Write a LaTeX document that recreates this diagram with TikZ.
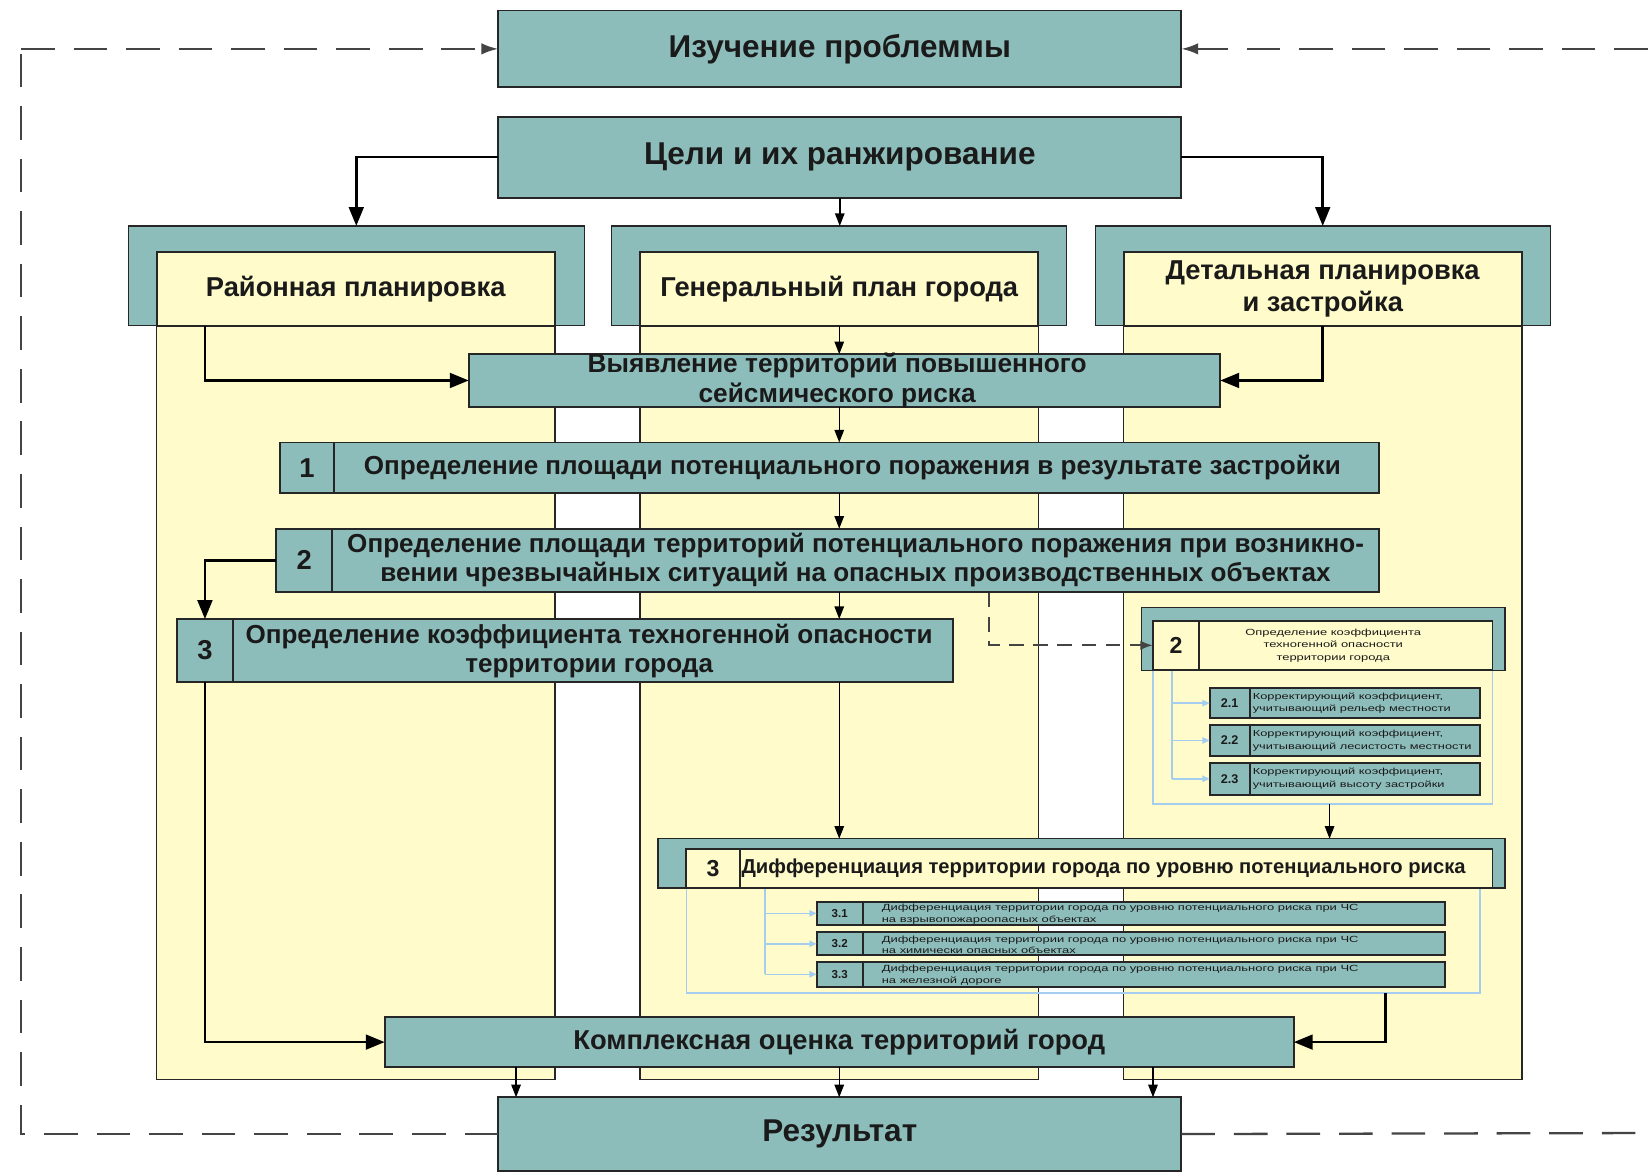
\documentclass[tikz,border=0pt]{standalone}
\usepackage{fontspec}
\setmainfont{Liberation Sans}
\newfontfamily\widefont[FakeStretch=1.45]{Liberation Sans}
\usetikzlibrary{arrows.meta}
\definecolor{tealf}{HTML}{8DBDBA}
\definecolor{yelf}{HTML}{FFFBCA}
\definecolor{edgec}{HTML}{262626}
\definecolor{lblue}{HTML}{A5CDF0}
\definecolor{dgray}{HTML}{444444}
\definecolor{txt}{HTML}{1A1A1A}
\newcommand\bx[6]{\node[#6,minimum width={(#4)-(#2)},minimum height={(#5)-(#3)}] (#1) at ({((#2)+(#4))/2},{((#3)+(#5))/2}) {};}
\begin{document}
\begin{tikzpicture}[x=1pt,y=-1pt,
  every node/.style={inner sep=0pt,outer sep=0pt,text=txt},
  tbox/.style={draw=edgec,line width=1.8pt,fill=tealf},
  ybox/.style={draw=edgec,line width=1.8pt,fill=yelf},
  hframe/.style={draw=edgec,line width=1.2pt,fill=tealf},
  panel/.style={draw=edgec,line width=1.5pt,fill=yelf},
  bframe/.style={draw=lblue,line width=1.5pt},
  f30/.style={font=\bfseries\fontsize{30}{34}\selectfont,align=center},
  f26/.style={font=\bfseries\fontsize{26}{30}\selectfont,align=center},
  f25/.style={font=\bfseries\fontsize{24.8}{27.5}\selectfont,align=center},
  f19/.style={font=\bfseries\fontsize{19.2}{23}\selectfont,align=center},
  fnum/.style={font=\bfseries\fontsize{26}{30}\selectfont},
  fsnum/.style={font=\bfseries\fontsize{12}{14}\selectfont},
  ftiny/.style={font=\widefont\fontsize{8.5}{12}\selectfont},
  bigarr/.style={draw=black,line width=2.6pt,-{Triangle[length=18pt,width=14pt]}},
  smallarr/.style={draw=black,line width=1.4pt,-{Triangle[length=12pt,width=9pt]}},
  dsh/.style={draw=dgray,line width=2.2pt,dash pattern=on 32pt off 18pt},
  dsharr/.style={dsh,-{Latex[length=16pt,width=11pt]}},
  dshs/.style={draw=dgray,line width=2pt,dash pattern=on 14pt off 9pt,-{Latex[length=12pt,width=9pt]}},
  bline/.style={draw=lblue,line width=1.5pt},
  blarr/.style={draw=lblue,line width=1.5pt,-{Triangle[length=7pt,width=6pt]}}
]
\fill[white] (0,0) rectangle (1568,1116);
\useasboundingbox (0,0) rectangle (1568,1116);

% top boxes
\bx{izuch}{474}{10}{1124}{83}{tbox}
\node[f30] (izuchT) at (izuch.center) {Изучение проблеммы};
\bx{celi}{474}{111}{1124}{188}{tbox}
\node[f30] (celiT) at (celi.center) {Цели и их ранжирование};
\bx{rezult}{474}{1044}{1124}{1114}{tbox}
\node[f30] (rezultT) at (rezult.center) {Результат};

% dashed loop
\coordinate (cTL) at (20,46.5);
\coordinate (cTR) at (1568,46.5);
\coordinate (cBR) at (1568,1078);
\draw[dsh] (rezult.west) -| (cTL);
\draw[dsharr] (cTL) -- (izuch.west);
\draw[dsharr] (cTR) -- (izuch.east);
\draw[dsh] (rezult.east) -- (cBR);

% column panels
\bx{raionP}{149}{240}{528}{1027}{panel}
\bx{genP}{609}{240}{988}{1027}{panel}
\bx{detP}{1069}{240}{1448}{1027}{panel}
\bx{raionH}{122}{215}{556}{310}{hframe}
\bx{genH}{582}{215}{1015}{310}{hframe}
\bx{detH}{1042}{215}{1475}{310}{hframe}
\bx{raionL}{149}{240}{528}{310}{ybox}
\bx{genL}{609}{240}{988}{310}{ybox}
\bx{detL}{1069}{240}{1448}{310}{ybox}
\node[f26] (raionT) at (raionL.center) {Районная планировка};
\node[f26] (genT) at (genL.center) {Генеральный план города};
\node[f26] (detT) at (detL.center) {Детальная планировка\\и застройка};

% main steps
\bx{vyyav}{446}{337}{1161}{387}{tbox}
\node[f26,font=\bfseries\fontsize{25}{29}\selectfont] (vyyavT) at ([xshift=-7pt]vyyav.center) {Выявление территорий повышенного\\сейсмического риска};
\bx{s1n}{266}{421}{318}{469}{tbox}
\bx{s1}{318}{421}{1312}{469}{tbox}
\node[fnum] (s1nT) at (s1n.center) {1};
\node[f25] (s1T) at ([xshift=-4pt]s1.center) {Определение площади потенциального поражения в результате застройки};
\bx{s2n}{263}{503}{316}{563}{tbox}
\bx{s2}{316}{503}{1312}{563}{tbox}
\node[fnum] (s2nT) at (s2n.center) {2};
\node[f25] (s2T) at (s2.center) {Определение площади территорий потенциального поражения при возникно-\\вении чрезвычайных ситуаций на опасных производственных объектах};
\bx{s3n}{168}{589}{222}{649}{tbox}
\bx{s3}{222}{589}{907}{649}{tbox}
\node[fnum] (s3nT) at (s3n.center) {3};
\node[f25] (s3T) at ([xshift=-4pt]s3.center) {Определение коэффициента техногенной опасности\\территории города};

% sub-block 2
\bx{bfr2}{1097}{637}{1420}{765}{bframe}
\bx{sub2f}{1086}{578}{1432}{638}{hframe}
\bx{sub2n}{1097}{591}{1141}{637}{ybox}
\bx{sub2}{1141}{591}{1420}{637}{ybox}
\node[font=\bfseries\fontsize{22}{26}\selectfont] (sub2nT) at (sub2n.center) {2};
\node[ftiny,align=center] (sub2T) at ([xshift=-12pt]sub2.center) {Определение коэффициента\\техногенной опасности\\территории города};
\bx{s21n}{1151}{655}{1189}{683}{tbox}
\bx{s21}{1189}{655}{1408}{683}{tbox}
\bx{s22n}{1151}{690}{1189}{719}{tbox}
\bx{s22}{1189}{690}{1408}{719}{tbox}
\bx{s23n}{1151}{726}{1189}{756}{tbox}
\bx{s23}{1189}{726}{1408}{756}{tbox}
\node[fsnum] (s21nT) at (s21n.center) {2.1};
\node[fsnum] (s22nT) at (s22n.center) {2.2};
\node[fsnum] (s23nT) at (s23n.center) {2.3};
\node[ftiny,font=\widefont\fontsize{8.4}{12}\selectfont,align=left,anchor=west] (s21T) at ([xshift=3pt]s21.west) {Корректирующий коэффициент,\\учитывающий рельеф местности};
\node[ftiny,font=\widefont\fontsize{8.4}{12}\selectfont,align=left,anchor=west] (s22T) at ([xshift=3pt]s22.west) {Корректирующий коэффициент,\\учитывающий лесистость местности};
\node[ftiny,font=\widefont\fontsize{8.4}{12}\selectfont,align=left,anchor=west] (s23T) at ([xshift=3pt]s23.west) {Корректирующий коэффициент,\\учитывающий высоту застройки};
\coordinate (b2) at (1115,638);
\draw[bline] (b2) -- (b2 |- s23n.west);
\foreach \k in {s21n,s22n,s23n} \draw[blarr] (b2 |- \k.west) -- (\k.west);

% differentiation block 3
\bx{bfr3}{653}{845}{1408}{945}{bframe}
\bx{d3f}{626}{798}{1432}{845}{hframe}
\bx{d3n}{653}{808}{704}{845}{ybox}
\bx{d3}{704}{808}{1420}{845}{ybox}
\node[font=\bfseries\fontsize{22}{26}\selectfont] (d3nT) at (d3n.center) {3};
\node[f19] (d3T) at ([xshift=-12pt]d3.center) {Дифференциация территории города по уровню потенциального риска};
\bx{s31n}{777}{858}{821}{880}{tbox}
\bx{s31}{821}{858}{1375}{880}{tbox}
\bx{s32n}{777}{887}{821}{909}{tbox}
\bx{s32}{821}{887}{1375}{909}{tbox}
\bx{s33n}{777}{915}{821}{939}{tbox}
\bx{s33}{821}{915}{1375}{939}{tbox}
\node[fsnum,font=\bfseries\fontsize{11}{13}\selectfont] (s31nT) at (s31n.center) {3.1};
\node[fsnum,font=\bfseries\fontsize{11}{13}\selectfont] (s32nT) at (s32n.center) {3.2};
\node[fsnum,font=\bfseries\fontsize{11}{13}\selectfont] (s33nT) at (s33n.center) {3.3};
\node[ftiny,font=\widefont\fontsize{8.5}{11}\selectfont,align=left,anchor=west] (s31T) at ([xshift=18pt,yshift=-1pt]s31.west) {Дифференциация территории города по уровню потенциального риска при ЧС\\на взрывопожароопасных объектах};
\node[ftiny,font=\widefont\fontsize{8.5}{11}\selectfont,align=left,anchor=west] (s32T) at ([xshift=18pt,yshift=-1pt]s32.west) {Дифференциация территории города по уровню потенциального риска при ЧС\\на химически опасных объектах};
\node[ftiny,font=\widefont\fontsize{8.5}{11}\selectfont,align=left,anchor=west] (s33T) at ([xshift=18pt,yshift=-1pt]s33.west) {Дифференциация территории города по уровню потенциального риска при ЧС\\на железной дороге};
\coordinate (b3) at (728,846);
\draw[bline] (b3) -- (b3 |- s33n.west);
\foreach \k in {s31n,s32n,s33n} \draw[blarr] (b3 |- \k.west) -- (\k.west);

% kompl
\bx{kompl}{366}{968}{1231}{1015}{tbox}
\node[f26] (komplT) at (kompl.center) {Комплексная оценка территорий город};

% connectors
\draw[bigarr] (celi.west) -| (raionH.north);
\draw[bigarr] (celi.east) -| (detH.north);
\draw[smallarr] (celi.south) -- (celi.south |- genH.north);
\draw[smallarr] (genL.south) -- (genL.south |- vyyav.north);
\draw[bigarr] (s3n.north |- raionL.south) |- (vyyav.west);
\draw[bigarr] (detL.south) |- (vyyav.east);
\draw[smallarr] (genL.south |- vyyav.south) -- (genL.south |- s1.north);
\draw[smallarr] (genL.south |- s1.south) -- (genL.south |- s2.north);
\draw[smallarr] (genL.south |- s2.south) -- (genL.south |- s3.north);
\draw[bigarr] (s2n.west) -| (s3n.north);
\draw[bigarr] (s3n.south) |- (kompl.west);
\draw[smallarr] (genL.south |- s3.south) -- (genL.south |- d3f.north);
\coordinate (dd) at (941,564);
\draw[dshs] (dd) |- (sub2n.west);
\coordinate (r2) at (1265,765);
\draw[smallarr] (r2) -- (r2 |- d3f.north);
\coordinate (r3) at (1318,945);
\draw[bigarr] (r3) |- (kompl.east);
\foreach \xx in {491,798.5,1097} \draw[smallarr] (\xx,0 |- kompl.south) -- (\xx,0 |- rezult.north);
\end{tikzpicture}
\end{document}
